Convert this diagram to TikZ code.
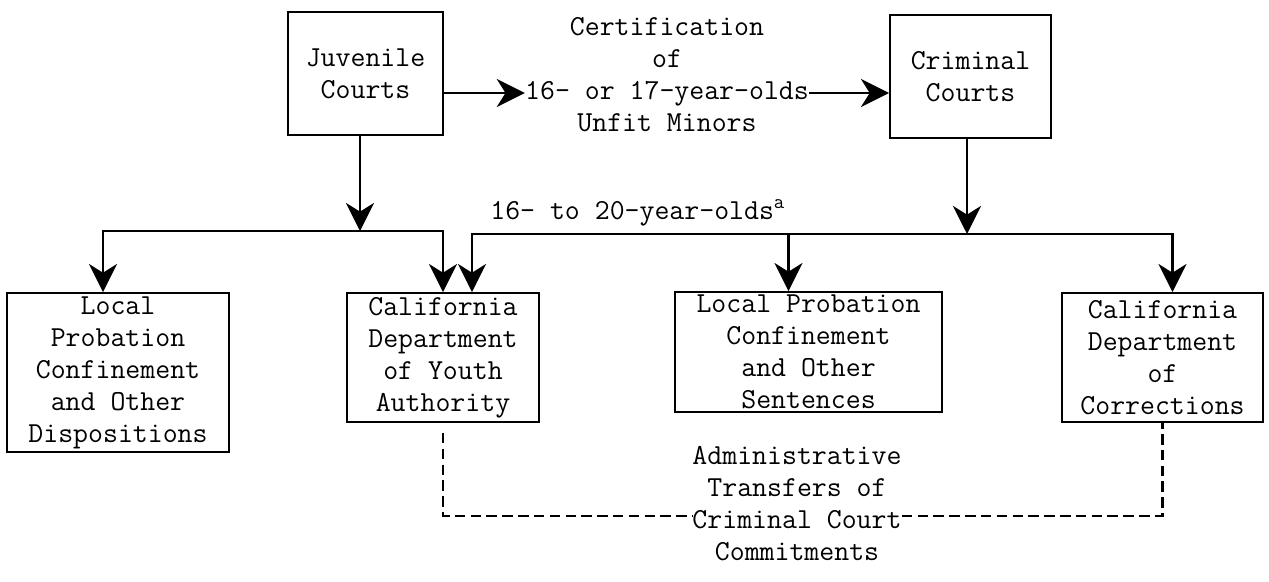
\documentclass[tikz,border=0pt]{standalone}
\usepackage{fontspec}
\usetikzlibrary{arrows.meta,calc}

\begin{document}
\begin{tikzpicture}[x=0.02cm,y=-0.02cm,
    font=\ttfamily\addfontfeatures{FakeBold=1.2}\fontsize{16.5}{18.2}\selectfont,
    box/.style={draw,line width=1.1pt,align=center,inner sep=1pt},
    txt/.style={align=center,inner sep=0pt},
    arr/.style={-{Stealth[length=16pt,width=16pt,inset=5pt]},line width=1.3pt},
    dsh/.style={line width=1.5pt,dash pattern=on 6pt off 3pt}]
    \useasboundingbox (0,0) rectangle (1269,582);
    % courts
    \node[box,minimum width=3.1cm,minimum height=2.46cm] (jc) at (365.5,73.5) {Juvenile\\Courts};
    \node[box,minimum width=3.22cm,minimum height=2.46cm] (cc) at (970.5,76.5) {Criminal\\Courts};
    \node[txt] (cert) at (667,75) {Certification\\of\\16- or 17-year-olds\\Unfit Minors};
    \coordinate (crow) at (667,93);
    \draw[arr] (jc.east |- crow) -- (cert.west |- crow);
    \draw[arr] (cert.east |- crow) -- (cc.west |- crow);
    % dispositions
    \node[box,minimum width=4.44cm,minimum height=3.18cm] (ld) at (118,372.5) {Local\\Probation\\Confinement\\and Other\\Dispositions};
    \node[box,minimum width=3.84cm,minimum height=2.58cm] (ya) at (443,357.5) {California\\Department\\of Youth\\Authority};
    \node[box,minimum width=5.34cm,minimum height=2.4cm] (lp) at (808.5,352) {Local Probation\\Confinement\\and Other\\Sentences};
    \node[box,minimum width=4.02cm,minimum height=2.58cm] (dc) at (1162.5,357.5) {California\\Department\\of\\Corrections};
    % juvenile branch
    \coordinate (jsplit) at (360,231);
    \draw[arr] (jc.south -| jsplit) -- (jsplit);
    \draw[arr] (jsplit) -| ([xshift=-0.3cm]ld.north);
    \draw[arr] (jsplit) -| (ya.north);
    % criminal branch
    \coordinate (csplit) at (967,234);
    \draw[arr] (cc.south -| csplit) -- (csplit);
    \node[txt,anchor=west] (age) at (490,213) {16- to 20-year-olds\textsuperscript{a}};
    \draw[arr] (csplit) -| ([xshift=0.58cm]ya.north);
    \draw[arr] (csplit) -| ([xshift=-0.4cm]lp.north);
    \draw[arr] (csplit) -| ([xshift=0.2cm]dc.north);
    % transfers
    \node[txt] (adm) at (797,504) {Administrative\\Transfers of\\Criminal Court\\Commitments};
    \coordinate (arow) at (797,516);
    \draw[dsh] ([yshift=-0.2cm]ya.south) |- (adm.west |- arow);
    \draw[dsh] (adm.east |- arow) -| (dc.south);
\end{tikzpicture}
\end{document}
